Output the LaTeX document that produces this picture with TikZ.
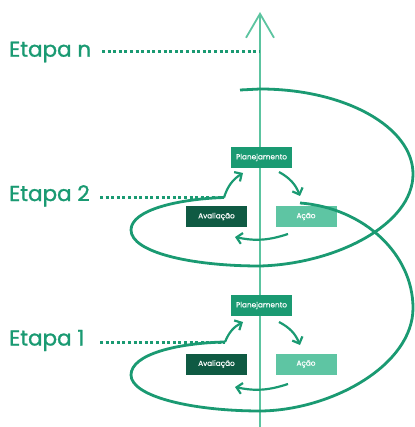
\documentclass[tikz,border=0pt]{standalone}
\usepackage{fontspec}
\setmainfont{Poppins}
\newfontfamily\etfont{Poppins}[FakeBold=1.2]
\newfontfamily\bxfont{Poppins}[FakeBold=0.6]
\usetikzlibrary{arrows.meta}
\definecolor{gmain}{HTML}{1A9A72}
\definecolor{gaxis}{HTML}{5CC4A0}
\definecolor{gdark}{HTML}{0F5A43}
\definecolor{glight}{HTML}{5EC5A3}
\begin{document}
\begin{tikzpicture}[x=1pt,y=-1pt,
  stepbox/.style={minimum width=61pt,minimum height=21pt,inner sep=0pt,text=white,font=\bxfont\fontsize{7.3}{8}\selectfont},
  etapa/.style={anchor=base west,inner sep=0pt,text=gmain,font=\etfont\fontsize{21.5}{24}\selectfont},
  dotline/.style={gmain,line width=3pt,dash pattern=on 3pt off 2.6pt},
  spiral/.style={gmain,line width=2.8pt},
  cyc/.style={gmain,line width=2.2pt,-{Straight Barb[length=5.5pt,width=11pt]}},
  axisline/.style={gaxis,line width=1.8pt,-{Straight Barb[length=24pt,width=28pt,line width=1.8pt]}}]
\useasboundingbox (0,0) rectangle (414,427);
% axis
\coordinate (axb) at (260,427);
\coordinate (axt) at (260,12);
\draw[axisline] (axb) -- (axt);
% boxes
\node[stepbox,fill=gmain] (P2) at (261.5,157.5) {Planejamento};
\node[stepbox,fill=gdark] (A2) at (216.5,216.5) {Avaliação};
\node[stepbox,fill=glight] (C2) at (306,216.5) {Ação};
\node[stepbox,fill=gmain] (P1) at (261.5,305.5) {Planejamento};
\node[stepbox,fill=gdark] (A1) at (216.5,364) {Avaliação};
\node[stepbox,fill=glight] (C1) at (306,364) {Ação};
% labels
\node[etapa] (En) at (9,56.7) {Etapa n};
\node[etapa] (E2) at (9,201) {Etapa 2};
\node[etapa] (E1) at (9,345.5) {Etapa 1};
% dotted lines
\coordinate (dn0) at (102,51.5);
\coordinate (dn1) at (260,51.5);
\coordinate (d20) at (100,197.5);
\coordinate (d21) at (224,197.5);
\coordinate (d10) at (100,342);
\coordinate (d11) at (225,342);
\draw[dotline] (dn0) -- (dn1);
\draw[dotline] (d20) -- (d21);
\draw[dotline] (d10) -- (d11);
% spiral
\coordinate (s0) at (240,90);
\coordinate (s1) at (413,174);
\coordinate (s2) at (260,266);
\coordinate (s3) at (131,230);
\coordinate (t0) at (300,203);
\coordinate (t1) at (413,308);
\coordinate (t2) at (261,411);
\coordinate (t3) at (131,375);
\draw[spiral] (s0) -- (260,89) .. controls (345,89) and (413,127) .. (s1)
  .. controls (413,225) and (335,264) .. (s2)
  .. controls (190,266) and (131,252) .. (s3)
  .. controls (131,210) and (178,199) .. (d21);
\draw[spiral] (t0) .. controls (365,208) and (413,255) .. (t1)
  .. controls (413,365) and (332,410) .. (t2)
  .. controls (190,411) and (131,396) .. (t3)
  .. controls (131,354) and (178,343) .. (d11);
% cycle arrows
\coordinate (a2p) at (243,173);
\coordinate (p2s) at (279,172);
\coordinate (p2e) at (300,196);
\coordinate (c2s) at (288,234);
\coordinate (c2e) at (235,237);
\coordinate (a1p) at (243,322);
\coordinate (p1s) at (279,322);
\coordinate (p1e) at (300,345);
\coordinate (c1s) at (288,384);
\coordinate (c1e) at (235,387);
\draw[cyc] (d21) to[bend left=20] (a2p);
\draw[cyc] (p2s) to[bend left=20] (p2e);
\draw[cyc] (c2s) to[bend left=15] (c2e);
\draw[cyc] (d11) to[bend left=20] (a1p);
\draw[cyc] (p1s) to[bend left=20] (p1e);
\draw[cyc] (c1s) to[bend left=15] (c1e);
\end{tikzpicture}
\end{document}
